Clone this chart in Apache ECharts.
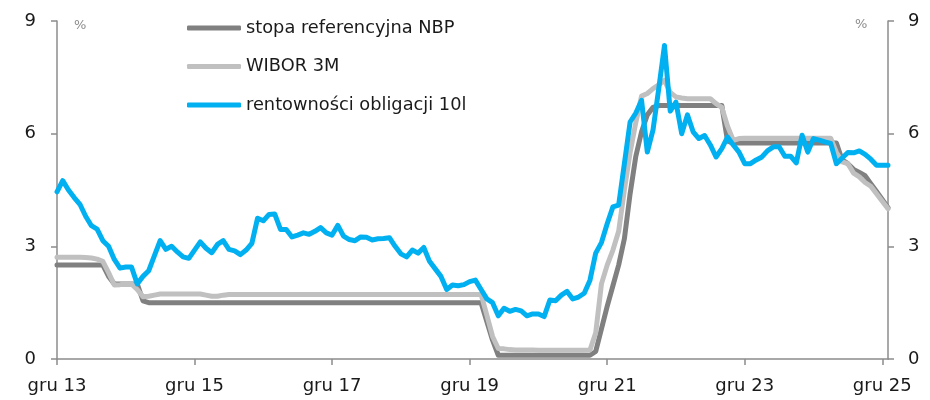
<!DOCTYPE html>
<html>
<head>
<meta charset="utf-8">
<script src="https://cdn.jsdelivr.net/npm/echarts@6/dist/echarts.min.js"></script>
<style>
  html, body { margin: 0; padding: 0; background: #fff; }
  #chart { width: 930px; height: 400px; }
</style>
</head>
<body>
<div id="chart"></div>
<script>
// monthly data, gru 2013 .. sty 2026
const seriesNames = ['stopa referencyjna NBP', 'WIBOR 3M', 'rentowności obligacji 10l'];
const tickLabels = ['gru 13', 'gru 15', 'gru 17', 'gru 19', 'gru 21', 'gru 23', 'gru 25'];

const nbpRate = [
  2.5, 2.5, 2.5, 2.5, 2.5, 2.5, 2.5, 2.5, 2.5, 2.2,
  2.0, 2.0, 2.0, 2.0, 2.0, 1.55, 1.5, 1.5, 1.5, 1.5,
  1.5, 1.5, 1.5, 1.5, 1.5, 1.5, 1.5, 1.5, 1.5, 1.5,
  1.5, 1.5, 1.5, 1.5, 1.5, 1.5, 1.5, 1.5, 1.5, 1.5,
  1.5, 1.5, 1.5, 1.5, 1.5, 1.5, 1.5, 1.5, 1.5, 1.5,
  1.5, 1.5, 1.5, 1.5, 1.5, 1.5, 1.5, 1.5, 1.5, 1.5,
  1.5, 1.5, 1.5, 1.5, 1.5, 1.5, 1.5, 1.5, 1.5, 1.5,
  1.5, 1.5, 1.5, 1.5, 1.5, 1.0, 0.5, 0.1, 0.1, 0.1,
  0.1, 0.1, 0.1, 0.1, 0.1, 0.1, 0.1, 0.1, 0.1, 0.1,
  0.1, 0.1, 0.1, 0.1, 0.2, 0.8, 1.4, 1.95, 2.5, 3.2,
  4.4, 5.4, 6.05, 6.5, 6.7, 6.75, 6.75, 6.75, 6.75, 6.75,
  6.75, 6.75, 6.75, 6.75, 6.75, 6.75, 6.75, 5.8, 5.75, 5.75,
  5.75, 5.75, 5.75, 5.75, 5.75, 5.75, 5.75, 5.75, 5.75, 5.75,
  5.75, 5.75, 5.75, 5.75, 5.75, 5.75, 5.75, 5.3, 5.2, 5.05,
  4.97, 4.88, 4.67, 4.46, 4.25, 4.03
];

const wibor3m = [
  2.71, 2.71, 2.71, 2.71, 2.71, 2.7, 2.69, 2.66, 2.6, 2.3,
  1.97, 1.98, 2.0, 2.0, 1.85, 1.66, 1.67, 1.7, 1.73, 1.73,
  1.73, 1.73, 1.73, 1.73, 1.73, 1.73, 1.7, 1.67, 1.67, 1.7,
  1.72, 1.72, 1.72, 1.72, 1.72, 1.72, 1.72, 1.72, 1.72, 1.72,
  1.72, 1.72, 1.72, 1.72, 1.72, 1.72, 1.72, 1.72, 1.72, 1.72,
  1.72, 1.72, 1.72, 1.72, 1.72, 1.72, 1.72, 1.72, 1.72, 1.72,
  1.72, 1.72, 1.72, 1.72, 1.72, 1.72, 1.72, 1.72, 1.72, 1.72,
  1.72, 1.72, 1.72, 1.72, 1.72, 1.17, 0.6, 0.28, 0.27, 0.25,
  0.24, 0.24, 0.24, 0.24, 0.23, 0.23, 0.23, 0.23, 0.23, 0.23,
  0.23, 0.23, 0.23, 0.24, 0.7, 2.0, 2.5, 2.9, 3.4, 4.5,
  5.5, 6.3, 7.0, 7.07, 7.2, 7.3, 7.42, 7.1, 6.98, 6.95,
  6.93, 6.93, 6.93, 6.93, 6.93, 6.8, 6.7, 6.2, 5.82, 5.87,
  5.88, 5.88, 5.88, 5.88, 5.88, 5.88, 5.88, 5.88, 5.88, 5.88,
  5.88, 5.88, 5.88, 5.88, 5.88, 5.88, 5.5, 5.25, 5.2, 4.95,
  4.85, 4.7, 4.6, 4.4, 4.2, 4.0
];

const bond10y = [
  4.45, 4.75, 4.5, 4.3, 4.12, 3.8, 3.55, 3.46, 3.15, 3.0,
  2.65, 2.42, 2.45, 2.45, 2.0, 2.2, 2.35, 2.75, 3.15, 2.92,
  3.0, 2.85, 2.72, 2.68, 2.9, 3.12, 2.95, 2.83, 3.05, 3.15,
  2.92, 2.88, 2.78, 2.9, 3.08, 3.75, 3.68, 3.85, 3.86, 3.45,
  3.45, 3.25, 3.3, 3.36, 3.32, 3.4, 3.5, 3.36, 3.3, 3.56,
  3.27, 3.18, 3.15, 3.25, 3.24, 3.17, 3.2, 3.21, 3.23, 3.0,
  2.8, 2.72, 2.9, 2.82, 2.97, 2.6, 2.4, 2.2, 1.85, 1.97,
  1.95, 1.98, 2.06, 2.1, 1.85, 1.6, 1.5, 1.15, 1.35, 1.27,
  1.32, 1.28, 1.15, 1.2, 1.2, 1.13, 1.57, 1.55, 1.7, 1.8,
  1.6, 1.65, 1.75, 2.1, 2.82, 3.1, 3.6, 4.05, 4.1, 5.2,
  6.31, 6.55, 6.89, 5.51, 6.1, 7.2, 8.35, 6.6, 6.84, 6.0,
  6.5, 6.05, 5.87, 5.95, 5.7, 5.38, 5.6, 5.91, 5.7, 5.51,
  5.2, 5.2, 5.3, 5.38, 5.55, 5.65, 5.65, 5.4, 5.4, 5.22,
  5.96, 5.51, 5.87, 5.83, 5.78, 5.74, 5.2, 5.35, 5.5, 5.49,
  5.54, 5.45, 5.32, 5.16, 5.16, 5.16
];

const months = bond10y.map((_, i) => i);

const axisGrey = '#8c8c8c';
const font = 'DejaVu Sans';

const chart = echarts.init(document.getElementById('chart'), null, { renderer: 'canvas' });

const lineSeries = (name, data, color, z) => ({
  name,
  type: 'line',
  data,
  yAxisIndex: 0,
  symbol: 'none',
  z,
  lineStyle: { color, width: 5, cap: 'round', join: 'round' },
  itemStyle: { color }
});

const valueAxis = (pos) => ({
  type: 'value',
  position: pos,
  min: 0, max: 9, interval: 3,
  axisLine: { show: true, onZero: false, lineStyle: { color: axisGrey, width: 1.5 } },
  axisTick: { show: true, length: 6, lineStyle: { color: axisGrey, width: 1.5 } },
  axisLabel: {
    margin: 8,
    align: pos === 'left' ? 'right' : 'left',
    padding: pos === 'left' ? [0, 13, 0, 0] : [0, 0, 0, 12],
    fontFamily: font, fontSize: 18, color: '#1a1a1a'
  },
  splitLine: { show: false }
});

chart.setOption({
  animation: false,
  backgroundColor: '#fff',
  grid: { left: 57, right: 42, top: 21, bottom: 41, containLabel: false },
  legend: {
    orient: 'vertical',
    left: 182,
    top: 13,
    icon: 'roundRect',
    itemWidth: 54,
    itemHeight: 5,
    itemGap: 18.5,
    data: seriesNames,
    textStyle: { fontFamily: font, fontSize: 17.8, color: '#1a1a1a', lineHeight: 20 }
  },
  xAxis: {
    type: 'category',
    data: months,
    boundaryGap: false,
    axisLine: { lineStyle: { color: axisGrey, width: 1.5 } },
    axisTick: { interval: i => i % 24 === 0, length: 6, lineStyle: { color: axisGrey, width: 1.5 } },
    axisLabel: {
      interval: i => i % 24 === 0,
      formatter: (v, i) => tickLabels[i / 24] || '',
      margin: 8,
      padding: [10, 0, 0, 0],
      fontFamily: font, fontSize: 18, color: '#1a1a1a'
    },
    splitLine: { show: false }
  },
  yAxis: [valueAxis('left'), valueAxis('right')],
  graphic: [
    { type: 'text', left: 74, top: 19, style: { text: '%', fontFamily: font, fontSize: 13, fill: axisGrey } },
    { type: 'text', left: 855, top: 18, style: { text: '%', fontFamily: font, fontSize: 13, fill: axisGrey } }
  ],
  series: [
    lineSeries(seriesNames[0], nbpRate, '#808080', 2),
    lineSeries(seriesNames[1], wibor3m, '#c0c0c0', 3),
    lineSeries(seriesNames[2], bond10y, '#00b0f0', 4)
  ]
});
</script>
</body>
</html>
